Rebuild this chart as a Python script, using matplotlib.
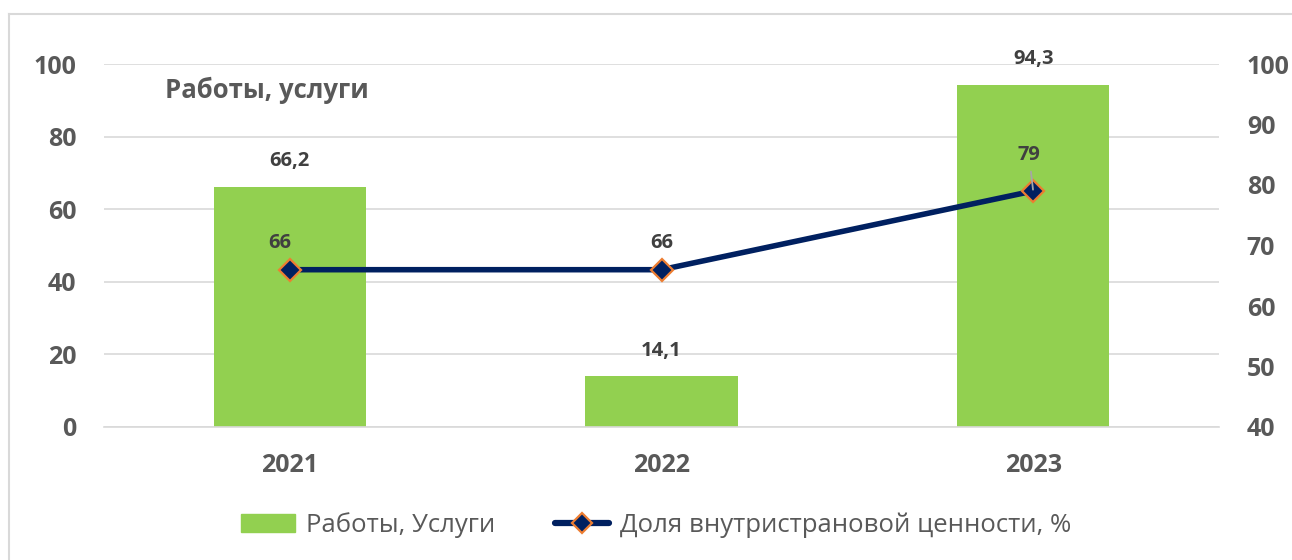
import matplotlib
matplotlib.use("Agg")
import matplotlib.pyplot as plt
from matplotlib.lines import Line2D

plt.rcParams["font.family"] = ["Open Sans", "DejaVu Sans"]

YEARS = ["2021", "2022", "2023"]
WORKS = [66.2, 14.1, 94.3]
SHARE = [66, 66, 79]
WORKS_LABELS = ["66,2", "14,1", "94,3"]
SHARE_LABELS = ["66", "66", "79"]

BAR_COLOR = "#92D050"
LINE_COLOR = "#002060"
EDGE_COLOR = "#ED7D31"
TICK_COLOR = "#595959"
LABEL_COLOR = "#404040"
GRID_COLOR = "#D9D9D9"

fig = plt.figure(figsize=(12.92, 5.6), dpi=100)
ax = fig.add_axes([104 / 1292, 1 - 427 / 560, (1219 - 104) / 1292, (427 - 64) / 560])
ax2 = ax.twinx()

x = list(range(len(YEARS)))
ax.bar(x, WORKS, width=0.41, color=BAR_COLOR, zorder=2, label="Работы, Услуги")
ax.set_xlim(-0.5, 2.5)
ax.set_ylim(0, 100)
ax.set_yticks(range(0, 101, 20))
ax.grid(axis="y", color=GRID_COLOR, lw=1.2, zorder=0)
ax.set_axisbelow(True)
for s in ["top", "right", "left"]:
    ax.spines[s].set_visible(False)
ax.spines["bottom"].set_color(GRID_COLOR)
ax.spines["bottom"].set_linewidth(1.2)
ax.tick_params(axis="both", length=0, colors=TICK_COLOR, labelsize=18)
ax.tick_params(axis="y", pad=20)
ax.tick_params(axis="x", pad=19)
ax.set_xticks(x)
ax.set_xticklabels(YEARS, fontweight="bold")
for t in ax.get_yticklabels():
    t.set_fontweight("bold")

for xi, v, lab in zip(x, WORKS, WORKS_LABELS):
    ax.annotate(lab, (xi, v), xytext=(0, 11), textcoords="offset points",
                ha="center", va="bottom", fontsize=14.5, fontweight="bold",
                color=LABEL_COLOR, annotation_clip=False)

ax2.plot(x, SHARE, color=LINE_COLOR, lw=4, marker="D", markersize=11,
         markerfacecolor=LINE_COLOR, markeredgecolor=EDGE_COLOR,
         markeredgewidth=1.6, zorder=3)
ax2.set_ylim(40, 100)
ax2.set_yticks(range(40, 101, 10))
for s in ax2.spines.values():
    s.set_visible(False)
ax2.tick_params(axis="y", length=0, colors=TICK_COLOR, labelsize=18, pad=20)
for t in ax2.get_yticklabels():
    t.set_fontweight("bold")

# подпись 79 сдвинута вверх с выноской, как в исходнике
offsets = [(-7, 12), (0, 12), (-3, 19)]
for xi, v, lab, off in zip(x, SHARE, SHARE_LABELS, offsets):
    if lab == "79":
        ax2.annotate(lab, (xi, v), xytext=off, textcoords="offset points",
                     ha="center", va="bottom", fontsize=14.5, fontweight="bold",
                     color=LABEL_COLOR,
                     arrowprops=dict(arrowstyle="-", color="#A6A6A6", lw=1.3,
                                     shrinkA=3, shrinkB=1))
    else:
        ax2.annotate(lab, (xi, v), xytext=off, textcoords="offset points",
                     ha="center", va="bottom", fontsize=14.5, fontweight="bold",
                     color=LABEL_COLOR)

fig.text(165 / 1292, 1 - 90 / 560, "Работы, услуги", fontsize=18.5,
         fontweight="bold", color=TICK_COLOR, va="center", ha="left")

handles = [
    plt.Rectangle((0, 0), 1, 1, color=BAR_COLOR),
    Line2D([0], [0], color=LINE_COLOR, lw=4.5, marker="D", markersize=10,
           markerfacecolor=LINE_COLOR, markeredgecolor=EDGE_COLOR,
           markeredgewidth=1.6, solid_capstyle="round"),
]
fig.legend(handles, ["Работы, Услуги", "Доля внутристрановой ценности, %"],
           loc="center", bbox_to_anchor=(0.5 + 10 / 1292, 1 - 525 / 560), ncol=2,
           frameon=False, fontsize=18.5, labelcolor=TICK_COLOR,
           handlelength=2.1, handleheight=0.66, handletextpad=0.45,
           columnspacing=2.3)

fig.add_artist(Line2D([9 / 1292, 9 / 1292], [0, 1 - 14 / 560],
                      color=GRID_COLOR, lw=1.5, transform=fig.transFigure))
fig.add_artist(Line2D([9 / 1292, 1], [1 - 14 / 560, 1 - 14 / 560],
                      color=GRID_COLOR, lw=1.5, transform=fig.transFigure))

fig.savefig("out.png", dpi=100)
